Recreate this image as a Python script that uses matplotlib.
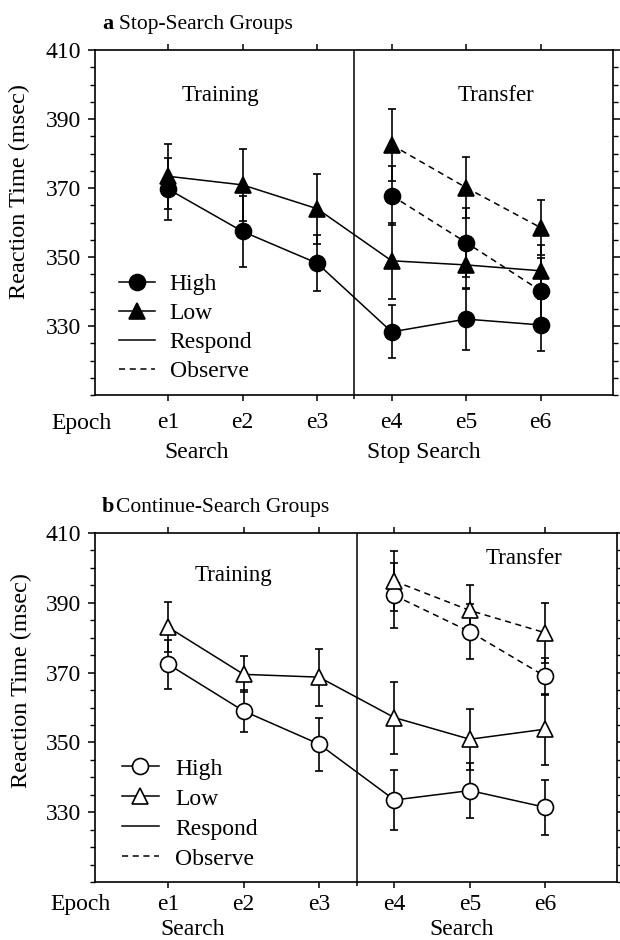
import numpy as np
import matplotlib.pyplot as plt
from matplotlib.lines import Line2D
from matplotlib.ticker import MultipleLocator, FixedLocator

plt.rcParams['font.family'] = ['Liberation Serif', 'DejaVu Serif']

# epochs
epochs = ["e1", "e2", "e3", "e4", "e5", "e6"]
x_all = [1, 2, 3, 4, 5, 6]
x_transfer = [4, 5, 6]

# a: Stop-Search groups
a_high_respond = [369.7, 357.4, 348.2, 328.3, 332.0, 330.3]
a_high_respond_err = [9.1, 10.2, 8.1, 7.7, 9.1, 7.5]
a_low_respond = [373.4, 370.9, 364.0, 348.9, 347.7, 346.0]
a_low_respond_err = [9.4, 10.4, 10.1, 11.1, 7.0, 7.5]
a_high_observe = [367.8, 354.2, 340.2]
a_high_observe_err = [8.6, 10.0, 9.5]
a_low_observe = [382.5, 370.1, 358.5]
a_low_observe_err = [10.5, 8.8, 8.0]

# b: Continue-Search groups
b_high_respond = [372.4, 359.0, 349.5, 333.5, 336.2, 331.4]
b_high_respond_err = [7.0, 6.0, 7.6, 8.5, 8.0, 7.8]
b_low_respond = [383.0, 369.5, 368.7, 357.1, 350.9, 353.8]
b_low_respond_err = [7.2, 5.2, 8.2, 10.3, 8.8, 10.2]
b_high_observe = [392.1, 381.7, 368.9]
b_high_observe_err = [9.4, 7.9, 5.3]
b_low_observe = [396.2, 387.8, 381.4]
b_low_observe_err = [8.6, 7.3, 8.6]

FS = 17
MS = 11.5
DASH = (0, (4, 3))


def draw_panel(ax, hr, hr_err, lr, lr_err, ho, ho_err, lo, lo_err, face):
    ebkw = dict(fmt="none", ecolor="k", elinewidth=1.2, capsize=2.6, capthick=1.2, zorder=2)
    ax.errorbar(x_all, hr, yerr=hr_err, **ebkw)
    ax.errorbar(x_all, lr, yerr=lr_err, **ebkw)
    ax.errorbar(x_transfer, ho, yerr=ho_err, **ebkw)
    ax.errorbar(x_transfer, lo, yerr=lo_err, **ebkw)

    mkw = dict(color="k", lw=1.1, markersize=MS, markerfacecolor=face,
               markeredgecolor="k", markeredgewidth=1.2, zorder=3)
    ax.plot(x_all, hr, marker="o", **mkw)
    ax.plot(x_all, lr, marker="^", **mkw)
    ax.plot(x_transfer, ho, marker="o", ls=DASH, **mkw)
    ax.plot(x_transfer, lo, marker="^", ls=DASH, **mkw)

    ax.set_ylim(310, 410)
    ax.set_yticks([330, 350, 370, 390, 410])
    ax.yaxis.set_minor_locator(MultipleLocator(5))
    ax.set_xticks(x_all)
    ax.set_xticklabels(epochs)
    ax.xaxis.set_minor_locator(FixedLocator([3.5]))
    ax.axvline(3.5, color="k", lw=1.1, zorder=1)

    for s in ax.spines.values():
        s.set_linewidth(1.2)
    ax.tick_params(axis="y", which="major", direction="out", length=5, width=1.1,
                   labelsize=FS, right=True, pad=5)
    ax.tick_params(axis="y", which="minor", direction="out", length=3.5, width=1.0,
                   right=True)
    ax.tick_params(axis="x", which="major", direction="out", length=4, width=1.1,
                   labelsize=FS, top=True, pad=8)
    ax.tick_params(axis="x", which="minor", direction="out", length=3, width=1.1,
                   top=False)

    ax.set_ylabel("Reaction Time (msec)", fontsize=17.5)

    handles = [
        Line2D([], [], color="k", lw=1.1, marker="o", markersize=MS,
               markerfacecolor=face, markeredgecolor="k", markeredgewidth=1.2),
        Line2D([], [], color="k", lw=1.1, marker="^", markersize=MS,
               markerfacecolor=face, markeredgecolor="k", markeredgewidth=1.2),
        Line2D([], [], color="k", lw=1.1),
        Line2D([], [], color="k", lw=1.1, ls=DASH),
    ]
    return handles


fig = plt.figure(figsize=(6.2, 9.4), dpi=100)

# ---------- a ----------
ax1 = fig.add_axes([95/620, 1-395/940, 518/620, 345/940])
h = draw_panel(ax1, a_high_respond, a_high_respond_err, a_low_respond, a_low_respond_err,
               a_high_observe, a_high_observe_err, a_low_observe, a_low_observe_err, "k")
ax1.set_xlim(0.02, 6.97)
ax1.yaxis.set_label_coords(-0.125, 0.59)
ax1.legend(h, ["High", "Low", "Respond", "Observe"], loc="upper left",
           bbox_to_anchor=(0.046, 0.352), frameon=False, fontsize=FS,
           handlelength=1.55, handletextpad=0.6, labelspacing=0.32,
           borderpad=0, borderaxespad=0)
ax1.text(1.70, 396.7, "Training", fontsize=16.5, ha="center", va="center")
ax1.text(5.40, 396.7, "Transfer", fontsize=16.5, ha="center", va="center")
ax1.annotate("Epoch", (-0.168, 0), xycoords=("data", "axes fraction"),
             xytext=(0, -20.5), textcoords="offset points",
             ha="center", va="center", fontsize=FS, annotation_clip=False)
for xx, lab in [(1.39, "Search"), (4.43, "Stop Search")]:
    ax1.annotate(lab, (xx, 0), xycoords=("data", "axes fraction"),
                 xytext=(0, -41.5), textcoords="offset points",
                 ha="center", va="center", fontsize=FS, annotation_clip=False)
fig.text(102/620, 1-29/940, "a", fontsize=16, fontweight="bold", ha="left", va="baseline")
fig.text(119/620, 1-29/940, "Stop-Search Groups", fontsize=15.5, ha="left", va="baseline")

# ---------- b ----------
ax2 = fig.add_axes([95/620, 1-882/940, 522/620, 349/940])
h = draw_panel(ax2, b_high_respond, b_high_respond_err, b_low_respond, b_low_respond_err,
               b_high_observe, b_high_observe_err, b_low_observe, b_low_observe_err, "white")
ax2.set_xlim(0.03, 6.95)
ax2.yaxis.set_label_coords(-0.12, 0.576)
ax2.tick_params(axis="x", which="major", pad=5)
ax2.legend(h, ["High", "Low", "Respond", "Observe"], loc="upper left",
           bbox_to_anchor=(0.052, 0.355), frameon=False, fontsize=FS,
           handlelength=1.55, handletextpad=0.7, labelspacing=0.36,
           borderpad=0, borderaxespad=0)
ax2.text(1.86, 397.8, "Training", fontsize=16.5, ha="center", va="center")
ax2.text(5.72, 402.6, "Transfer", fontsize=16.5, ha="center", va="center")
ax2.annotate("Epoch", (-0.156, 0), xycoords=("data", "axes fraction"),
             xytext=(0, -16.5), textcoords="offset points",
             ha="center", va="center", fontsize=FS, annotation_clip=False)
for xx, lab in [(1.33, "Search"), (4.89, "Search")]:
    ax2.annotate(lab, (xx, 0), xycoords=("data", "axes fraction"),
                 xytext=(0, -34), textcoords="offset points",
                 ha="center", va="center", fontsize=FS, annotation_clip=False)
fig.text(102/620, 1-512/940, "b", fontsize=16, fontweight="bold", ha="left", va="baseline")
fig.text(116/620, 1-512/940, "Continue-Search Groups", fontsize=15.5, ha="left", va="baseline")

fig.savefig("out.png", dpi=100)
